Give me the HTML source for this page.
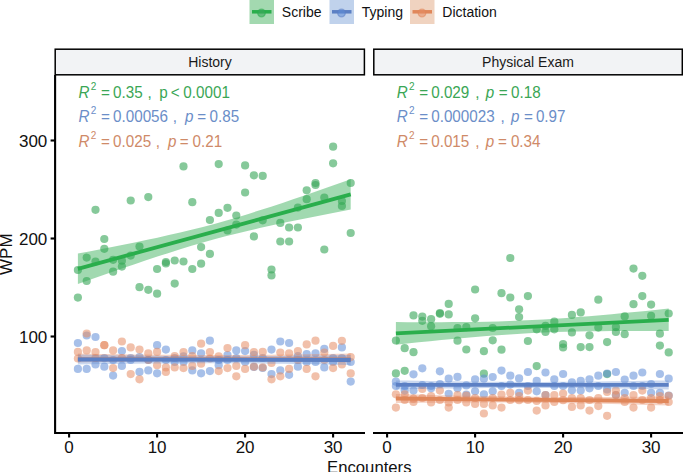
<!DOCTYPE html><html><head><meta charset="utf-8"><style>html,body{margin:0;padding:0;background:#fff;width:683px;height:472px;overflow:hidden}svg{display:block}</style></head><body><svg width="683" height="472" viewBox="0 0 683 472" font-family='"Liberation Sans", sans-serif'><rect width="683" height="472" fill="#fff"/><rect x="249.5" y="0" width="24.5" height="24" fill="#a3d9b0"/><line x1="252.0" y1="11.8" x2="271.5" y2="11.8" stroke="#2aae4c" stroke-width="3.5"/><circle cx="261.5" cy="13" r="3.8" fill="rgba(60,168,92,0.62)" stroke="#2aae4c" stroke-opacity="0.55" stroke-width="1.3"/><rect x="329.5" y="0" width="24.5" height="24" fill="#c0d2ec"/><line x1="332.0" y1="11.8" x2="351.5" y2="11.8" stroke="#5c80c4" stroke-width="3.5"/><circle cx="341.5" cy="13" r="3.8" fill="rgba(95,140,215,0.55)" stroke="#5c80c4" stroke-opacity="0.55" stroke-width="1.3"/><rect x="410" y="0" width="24.5" height="24" fill="#f0d3c0"/><line x1="412.5" y1="11.8" x2="432" y2="11.8" stroke="#e0875a" stroke-width="3.5"/><circle cx="422" cy="13" r="3.8" fill="rgba(230,140,100,0.55)" stroke="#e0875a" stroke-opacity="0.55" stroke-width="1.3"/><g font-size="14" fill="#111"><text x="281.8" y="16.9">Scribe</text><text x="361.8" y="16.9">Typing</text><text x="442.3" y="16.9">Dictation</text></g><rect x="55.2" y="49.2" width="309.2" height="25.6" fill="#f2f3f5" stroke="#000" stroke-width="1.5"/><rect x="373.8" y="49.2" width="308.5" height="25.6" fill="#f2f3f5" stroke="#000" stroke-width="1.5"/><g font-size="14" fill="#1a1a1a" text-anchor="middle"><text x="210" y="66.9">History</text><text x="528" y="66.9">Physical Exam</text></g><g fill="rgba(60,168,92,0.62)"><circle cx="77.9" cy="270.0" r="4.1"/><circle cx="77.9" cy="297.6" r="4.1"/><circle cx="86.7" cy="257.6" r="4.1"/><circle cx="86.7" cy="281.0" r="4.1"/><circle cx="95.5" cy="209.8" r="4.1"/><circle cx="95.5" cy="261.5" r="4.1"/><circle cx="104.3" cy="239.0" r="4.1"/><circle cx="104.3" cy="248.8" r="4.1"/><circle cx="113.1" cy="259.8" r="4.1"/><circle cx="113.1" cy="271.7" r="4.1"/><circle cx="121.9" cy="260.7" r="4.1"/><circle cx="121.9" cy="266.6" r="4.1"/><circle cx="130.7" cy="200.5" r="4.1"/><circle cx="130.7" cy="255.6" r="4.1"/><circle cx="139.5" cy="246.5" r="4.1"/><circle cx="139.5" cy="287.2" r="4.1"/><circle cx="148.3" cy="197.1" r="4.1"/><circle cx="148.3" cy="289.8" r="4.1"/><circle cx="157.1" cy="269.0" r="4.1"/><circle cx="157.1" cy="293.7" r="4.1"/><circle cx="165.9" cy="262.0" r="4.1"/><circle cx="165.9" cy="263.5" r="4.1"/><circle cx="174.7" cy="260.5" r="4.1"/><circle cx="174.7" cy="283.6" r="4.1"/><circle cx="183.5" cy="166.4" r="4.1"/><circle cx="183.5" cy="261.5" r="4.1"/><circle cx="192.3" cy="202.2" r="4.1"/><circle cx="192.3" cy="269.0" r="4.1"/><circle cx="201.1" cy="247.1" r="4.1"/><circle cx="201.1" cy="263.7" r="4.1"/><circle cx="209.9" cy="220.0" r="4.1"/><circle cx="209.9" cy="253.9" r="4.1"/><circle cx="218.7" cy="164.1" r="4.1"/><circle cx="218.7" cy="212.9" r="4.1"/><circle cx="227.5" cy="207.8" r="4.1"/><circle cx="227.5" cy="230.5" r="4.1"/><circle cx="236.3" cy="215.5" r="4.1"/><circle cx="236.3" cy="224.6" r="4.1"/><circle cx="245.1" cy="165.4" r="4.1"/><circle cx="245.1" cy="192.5" r="4.1"/><circle cx="253.9" cy="175.3" r="4.1"/><circle cx="253.9" cy="236.4" r="4.1"/><circle cx="262.7" cy="175.9" r="4.1"/><circle cx="262.7" cy="220.3" r="4.1"/><circle cx="271.5" cy="269.5" r="4.1"/><circle cx="271.5" cy="275.4" r="4.1"/><circle cx="280.3" cy="222.9" r="4.1"/><circle cx="280.3" cy="241.5" r="4.1"/><circle cx="289.1" cy="227.5" r="4.1"/><circle cx="289.1" cy="241.5" r="4.1"/><circle cx="297.9" cy="207.6" r="4.1"/><circle cx="297.9" cy="227.5" r="4.1"/><circle cx="306.7" cy="190.3" r="4.1"/><circle cx="306.7" cy="199.2" r="4.1"/><circle cx="315.5" cy="183.0" r="4.1"/><circle cx="315.5" cy="185.0" r="4.1"/><circle cx="324.3" cy="197.5" r="4.1"/><circle cx="324.3" cy="249.5" r="4.1"/><circle cx="333.1" cy="146.7" r="4.1"/><circle cx="333.1" cy="163.3" r="4.1"/><circle cx="341.9" cy="201.0" r="4.1"/><circle cx="341.9" cy="206.0" r="4.1"/><circle cx="350.7" cy="183.0" r="4.1"/><circle cx="350.7" cy="233.0" r="4.1"/></g><g fill="rgba(95,140,215,0.55)"><circle cx="77.9" cy="343.0" r="4.1"/><circle cx="77.9" cy="368.9" r="4.1"/><circle cx="86.7" cy="335.5" r="4.1"/><circle cx="86.7" cy="368.9" r="4.1"/><circle cx="95.5" cy="337.0" r="4.1"/><circle cx="95.5" cy="364.4" r="4.1"/><circle cx="104.3" cy="366.7" r="4.1"/><circle cx="104.3" cy="358.0" r="4.1"/><circle cx="113.1" cy="375.6" r="4.1"/><circle cx="113.1" cy="360.0" r="4.1"/><circle cx="121.9" cy="351.1" r="4.1"/><circle cx="121.9" cy="365.9" r="4.1"/><circle cx="130.7" cy="360.0" r="4.1"/><circle cx="130.7" cy="358.0" r="4.1"/><circle cx="139.5" cy="371.9" r="4.1"/><circle cx="139.5" cy="357.0" r="4.1"/><circle cx="148.3" cy="370.4" r="4.1"/><circle cx="148.3" cy="360.0" r="4.1"/><circle cx="157.1" cy="345.2" r="4.1"/><circle cx="157.1" cy="373.3" r="4.1"/><circle cx="165.9" cy="349.6" r="4.1"/><circle cx="165.9" cy="360.0" r="4.1"/><circle cx="174.7" cy="358.0" r="4.1"/><circle cx="174.7" cy="362.0" r="4.1"/><circle cx="183.5" cy="356.3" r="4.1"/><circle cx="183.5" cy="362.0" r="4.1"/><circle cx="192.3" cy="350.4" r="4.1"/><circle cx="192.3" cy="370.4" r="4.1"/><circle cx="201.1" cy="353.3" r="4.1"/><circle cx="201.1" cy="373.3" r="4.1"/><circle cx="209.9" cy="340.7" r="4.1"/><circle cx="209.9" cy="371.1" r="4.1"/><circle cx="218.7" cy="365.2" r="4.1"/><circle cx="218.7" cy="360.0" r="4.1"/><circle cx="227.5" cy="360.0" r="4.1"/><circle cx="227.5" cy="355.0" r="4.1"/><circle cx="236.3" cy="350.4" r="4.1"/><circle cx="236.3" cy="358.0" r="4.1"/><circle cx="245.1" cy="351.1" r="4.1"/><circle cx="245.1" cy="362.0" r="4.1"/><circle cx="253.9" cy="354.8" r="4.1"/><circle cx="253.9" cy="367.0" r="4.1"/><circle cx="262.7" cy="358.0" r="4.1"/><circle cx="262.7" cy="368.0" r="4.1"/><circle cx="271.5" cy="349.6" r="4.1"/><circle cx="271.5" cy="374.1" r="4.1"/><circle cx="280.3" cy="341.5" r="4.1"/><circle cx="280.3" cy="370.4" r="4.1"/><circle cx="289.1" cy="343.0" r="4.1"/><circle cx="289.1" cy="374.8" r="4.1"/><circle cx="297.9" cy="366.7" r="4.1"/><circle cx="297.9" cy="356.0" r="4.1"/><circle cx="306.7" cy="354.1" r="4.1"/><circle cx="306.7" cy="362.0" r="4.1"/><circle cx="315.5" cy="353.3" r="4.1"/><circle cx="315.5" cy="362.0" r="4.1"/><circle cx="324.3" cy="348.9" r="4.1"/><circle cx="324.3" cy="367.4" r="4.1"/><circle cx="333.1" cy="358.0" r="4.1"/><circle cx="333.1" cy="362.0" r="4.1"/><circle cx="341.9" cy="347.4" r="4.1"/><circle cx="341.9" cy="358.0" r="4.1"/><circle cx="350.7" cy="381.6" r="4.1"/><circle cx="350.7" cy="362.0" r="4.1"/></g><g fill="rgba(230,140,100,0.55)"><circle cx="77.9" cy="351.9" r="4.1"/><circle cx="77.9" cy="358.5" r="4.1"/><circle cx="86.7" cy="333.5" r="4.1"/><circle cx="86.7" cy="350.4" r="4.1"/><circle cx="95.5" cy="352.0" r="4.1"/><circle cx="95.5" cy="358.0" r="4.1"/><circle cx="104.3" cy="345.2" r="4.1"/><circle cx="104.3" cy="345.2" r="4.1"/><circle cx="113.1" cy="350.4" r="4.1"/><circle cx="113.1" cy="368.1" r="4.1"/><circle cx="121.9" cy="341.5" r="4.1"/><circle cx="121.9" cy="358.0" r="4.1"/><circle cx="130.7" cy="347.4" r="4.1"/><circle cx="130.7" cy="374.1" r="4.1"/><circle cx="139.5" cy="349.6" r="4.1"/><circle cx="139.5" cy="379.3" r="4.1"/><circle cx="148.3" cy="353.3" r="4.1"/><circle cx="148.3" cy="360.0" r="4.1"/><circle cx="157.1" cy="351.9" r="4.1"/><circle cx="157.1" cy="365.2" r="4.1"/><circle cx="165.9" cy="367.4" r="4.1"/><circle cx="165.9" cy="371.9" r="4.1"/><circle cx="174.7" cy="367.4" r="4.1"/><circle cx="174.7" cy="356.0" r="4.1"/><circle cx="183.5" cy="368.1" r="4.1"/><circle cx="183.5" cy="352.0" r="4.1"/><circle cx="192.3" cy="365.9" r="4.1"/><circle cx="192.3" cy="356.0" r="4.1"/><circle cx="201.1" cy="343.7" r="4.1"/><circle cx="201.1" cy="363.7" r="4.1"/><circle cx="209.9" cy="358.5" r="4.1"/><circle cx="209.9" cy="352.0" r="4.1"/><circle cx="218.7" cy="356.3" r="4.1"/><circle cx="218.7" cy="371.1" r="4.1"/><circle cx="227.5" cy="348.1" r="4.1"/><circle cx="227.5" cy="368.1" r="4.1"/><circle cx="236.3" cy="365.9" r="4.1"/><circle cx="236.3" cy="376.3" r="4.1"/><circle cx="245.1" cy="345.2" r="4.1"/><circle cx="245.1" cy="368.9" r="4.1"/><circle cx="253.9" cy="366.7" r="4.1"/><circle cx="253.9" cy="352.0" r="4.1"/><circle cx="262.7" cy="351.9" r="4.1"/><circle cx="262.7" cy="367.4" r="4.1"/><circle cx="271.5" cy="363.0" r="4.1"/><circle cx="271.5" cy="379.3" r="4.1"/><circle cx="280.3" cy="352.6" r="4.1"/><circle cx="280.3" cy="376.3" r="4.1"/><circle cx="289.1" cy="353.3" r="4.1"/><circle cx="289.1" cy="368.9" r="4.1"/><circle cx="297.9" cy="351.1" r="4.1"/><circle cx="297.9" cy="360.0" r="4.1"/><circle cx="306.7" cy="344.4" r="4.1"/><circle cx="306.7" cy="368.9" r="4.1"/><circle cx="315.5" cy="340.7" r="4.1"/><circle cx="315.5" cy="376.3" r="4.1"/><circle cx="324.3" cy="352.6" r="4.1"/><circle cx="324.3" cy="360.0" r="4.1"/><circle cx="333.1" cy="345.9" r="4.1"/><circle cx="333.1" cy="368.1" r="4.1"/><circle cx="341.9" cy="340.8" r="4.1"/><circle cx="341.9" cy="364.5" r="4.1"/><circle cx="350.7" cy="357.1" r="4.1"/><circle cx="350.7" cy="373.4" r="4.1"/></g><g fill="rgba(60,168,92,0.62)"><circle cx="395.9" cy="340.5" r="4.1"/><circle cx="395.9" cy="373.4" r="4.1"/><circle cx="404.7" cy="348.2" r="4.1"/><circle cx="404.7" cy="370.8" r="4.1"/><circle cx="413.5" cy="315.4" r="4.1"/><circle cx="413.5" cy="352.2" r="4.1"/><circle cx="422.3" cy="316.6" r="4.1"/><circle cx="422.3" cy="320.8" r="4.1"/><circle cx="431.1" cy="319.2" r="4.1"/><circle cx="431.1" cy="326.3" r="4.1"/><circle cx="439.9" cy="313.0" r="4.1"/><circle cx="439.9" cy="313.8" r="4.1"/><circle cx="448.7" cy="303.9" r="4.1"/><circle cx="448.7" cy="314.4" r="4.1"/><circle cx="457.5" cy="328.0" r="4.1"/><circle cx="457.5" cy="340.7" r="4.1"/><circle cx="466.3" cy="327.1" r="4.1"/><circle cx="466.3" cy="349.5" r="4.1"/><circle cx="475.1" cy="289.5" r="4.1"/><circle cx="475.1" cy="318.3" r="4.1"/><circle cx="483.9" cy="351.2" r="4.1"/><circle cx="483.9" cy="373.7" r="4.1"/><circle cx="492.7" cy="328.0" r="4.1"/><circle cx="492.7" cy="340.3" r="4.1"/><circle cx="501.5" cy="293.2" r="4.1"/><circle cx="501.5" cy="349.7" r="4.1"/><circle cx="510.3" cy="258.0" r="4.1"/><circle cx="510.3" cy="297.5" r="4.1"/><circle cx="519.1" cy="309.3" r="4.1"/><circle cx="519.1" cy="317.0" r="4.1"/><circle cx="527.9" cy="296.1" r="4.1"/><circle cx="527.9" cy="341.0" r="4.1"/><circle cx="536.7" cy="329.3" r="4.1"/><circle cx="536.7" cy="366.1" r="4.1"/><circle cx="545.5" cy="325.9" r="4.1"/><circle cx="545.5" cy="331.9" r="4.1"/><circle cx="554.3" cy="321.7" r="4.1"/><circle cx="554.3" cy="329.3" r="4.1"/><circle cx="563.1" cy="344.0" r="4.1"/><circle cx="563.1" cy="347.5" r="4.1"/><circle cx="571.9" cy="314.9" r="4.1"/><circle cx="571.9" cy="332.4" r="4.1"/><circle cx="580.7" cy="312.4" r="4.1"/><circle cx="580.7" cy="347.1" r="4.1"/><circle cx="589.5" cy="335.3" r="4.1"/><circle cx="589.5" cy="347.1" r="4.1"/><circle cx="598.3" cy="299.7" r="4.1"/><circle cx="598.3" cy="327.6" r="4.1"/><circle cx="607.1" cy="342.1" r="4.1"/><circle cx="607.1" cy="374.1" r="4.1"/><circle cx="615.9" cy="327.1" r="4.1"/><circle cx="615.9" cy="332.0" r="4.1"/><circle cx="624.7" cy="316.4" r="4.1"/><circle cx="624.7" cy="334.2" r="4.1"/><circle cx="633.5" cy="268.6" r="4.1"/><circle cx="633.5" cy="304.2" r="4.1"/><circle cx="642.3" cy="275.8" r="4.1"/><circle cx="642.3" cy="296.1" r="4.1"/><circle cx="651.1" cy="304.6" r="4.1"/><circle cx="651.1" cy="315.8" r="4.1"/><circle cx="659.9" cy="333.7" r="4.1"/><circle cx="659.9" cy="345.6" r="4.1"/><circle cx="668.7" cy="313.5" r="4.1"/><circle cx="668.7" cy="352.4" r="4.1"/></g><g fill="rgba(95,140,215,0.55)"><circle cx="395.9" cy="381.7" r="4.1"/><circle cx="395.9" cy="386.0" r="4.1"/><circle cx="404.7" cy="390.6" r="4.1"/><circle cx="404.7" cy="386.0" r="4.1"/><circle cx="413.5" cy="374.3" r="4.1"/><circle cx="413.5" cy="390.6" r="4.1"/><circle cx="422.3" cy="368.3" r="4.1"/><circle cx="422.3" cy="385.0" r="4.1"/><circle cx="431.1" cy="388.3" r="4.1"/><circle cx="431.1" cy="386.0" r="4.1"/><circle cx="439.9" cy="371.3" r="4.1"/><circle cx="439.9" cy="384.0" r="4.1"/><circle cx="448.7" cy="378.7" r="4.1"/><circle cx="448.7" cy="393.8" r="4.1"/><circle cx="457.5" cy="376.9" r="4.1"/><circle cx="457.5" cy="388.3" r="4.1"/><circle cx="466.3" cy="385.4" r="4.1"/><circle cx="466.3" cy="394.5" r="4.1"/><circle cx="475.1" cy="379.4" r="4.1"/><circle cx="475.1" cy="391.3" r="4.1"/><circle cx="483.9" cy="378.7" r="4.1"/><circle cx="483.9" cy="394.3" r="4.1"/><circle cx="492.7" cy="377.0" r="4.1"/><circle cx="492.7" cy="391.3" r="4.1"/><circle cx="501.5" cy="370.6" r="4.1"/><circle cx="501.5" cy="386.0" r="4.1"/><circle cx="510.3" cy="375.7" r="4.1"/><circle cx="510.3" cy="384.6" r="4.1"/><circle cx="519.1" cy="378.4" r="4.1"/><circle cx="519.1" cy="392.8" r="4.1"/><circle cx="527.9" cy="372.0" r="4.1"/><circle cx="527.9" cy="386.0" r="4.1"/><circle cx="536.7" cy="380.9" r="4.1"/><circle cx="536.7" cy="391.3" r="4.1"/><circle cx="545.5" cy="372.5" r="4.1"/><circle cx="545.5" cy="395.0" r="4.1"/><circle cx="554.3" cy="379.4" r="4.1"/><circle cx="554.3" cy="386.0" r="4.1"/><circle cx="563.1" cy="374.0" r="4.1"/><circle cx="563.1" cy="386.0" r="4.1"/><circle cx="571.9" cy="382.4" r="4.1"/><circle cx="571.9" cy="390.3" r="4.1"/><circle cx="580.7" cy="380.9" r="4.1"/><circle cx="580.7" cy="390.6" r="4.1"/><circle cx="589.5" cy="379.4" r="4.1"/><circle cx="589.5" cy="388.3" r="4.1"/><circle cx="598.3" cy="375.7" r="4.1"/><circle cx="598.3" cy="386.0" r="4.1"/><circle cx="607.1" cy="373.5" r="4.1"/><circle cx="607.1" cy="389.5" r="4.1"/><circle cx="615.9" cy="372.0" r="4.1"/><circle cx="615.9" cy="395.0" r="4.1"/><circle cx="624.7" cy="379.5" r="4.1"/><circle cx="624.7" cy="392.8" r="4.1"/><circle cx="633.5" cy="375.7" r="4.1"/><circle cx="633.5" cy="386.0" r="4.1"/><circle cx="642.3" cy="372.5" r="4.1"/><circle cx="642.3" cy="386.0" r="4.1"/><circle cx="651.1" cy="392.8" r="4.1"/><circle cx="651.1" cy="384.0" r="4.1"/><circle cx="659.9" cy="374.0" r="4.1"/><circle cx="659.9" cy="392.8" r="4.1"/><circle cx="668.7" cy="378.7" r="4.1"/><circle cx="668.7" cy="395.5" r="4.1"/></g><g fill="rgba(230,140,100,0.55)"><circle cx="395.9" cy="394.3" r="4.1"/><circle cx="395.9" cy="407.6" r="4.1"/><circle cx="404.7" cy="394.3" r="4.1"/><circle cx="404.7" cy="400.0" r="4.1"/><circle cx="413.5" cy="398.7" r="4.1"/><circle cx="413.5" cy="402.0" r="4.1"/><circle cx="422.3" cy="389.0" r="4.1"/><circle cx="422.3" cy="398.0" r="4.1"/><circle cx="431.1" cy="402.4" r="4.1"/><circle cx="431.1" cy="396.0" r="4.1"/><circle cx="439.9" cy="390.6" r="4.1"/><circle cx="439.9" cy="400.0" r="4.1"/><circle cx="448.7" cy="402.4" r="4.1"/><circle cx="448.7" cy="407.6" r="4.1"/><circle cx="457.5" cy="395.0" r="4.1"/><circle cx="457.5" cy="400.0" r="4.1"/><circle cx="466.3" cy="395.7" r="4.1"/><circle cx="466.3" cy="402.4" r="4.1"/><circle cx="475.1" cy="403.9" r="4.1"/><circle cx="475.1" cy="398.0" r="4.1"/><circle cx="483.9" cy="403.9" r="4.1"/><circle cx="483.9" cy="413.5" r="4.1"/><circle cx="492.7" cy="405.4" r="4.1"/><circle cx="492.7" cy="398.0" r="4.1"/><circle cx="501.5" cy="407.6" r="4.1"/><circle cx="501.5" cy="394.5" r="4.1"/><circle cx="510.3" cy="392.8" r="4.1"/><circle cx="510.3" cy="400.0" r="4.1"/><circle cx="519.1" cy="400.2" r="4.1"/><circle cx="519.1" cy="396.0" r="4.1"/><circle cx="527.9" cy="390.6" r="4.1"/><circle cx="527.9" cy="400.0" r="4.1"/><circle cx="536.7" cy="400.9" r="4.1"/><circle cx="536.7" cy="410.6" r="4.1"/><circle cx="545.5" cy="395.0" r="4.1"/><circle cx="545.5" cy="405.4" r="4.1"/><circle cx="554.3" cy="395.0" r="4.1"/><circle cx="554.3" cy="402.0" r="4.1"/><circle cx="563.1" cy="393.5" r="4.1"/><circle cx="563.1" cy="400.2" r="4.1"/><circle cx="571.9" cy="398.0" r="4.1"/><circle cx="571.9" cy="406.9" r="4.1"/><circle cx="580.7" cy="405.4" r="4.1"/><circle cx="580.7" cy="398.0" r="4.1"/><circle cx="589.5" cy="410.6" r="4.1"/><circle cx="589.5" cy="400.0" r="4.1"/><circle cx="598.3" cy="406.1" r="4.1"/><circle cx="598.3" cy="398.0" r="4.1"/><circle cx="607.1" cy="392.0" r="4.1"/><circle cx="607.1" cy="415.8" r="4.1"/><circle cx="615.9" cy="390.6" r="4.1"/><circle cx="615.9" cy="395.0" r="4.1"/><circle cx="624.7" cy="398.0" r="4.1"/><circle cx="624.7" cy="402.0" r="4.1"/><circle cx="633.5" cy="395.0" r="4.1"/><circle cx="633.5" cy="407.6" r="4.1"/><circle cx="642.3" cy="390.6" r="4.1"/><circle cx="642.3" cy="400.0" r="4.1"/><circle cx="651.1" cy="407.6" r="4.1"/><circle cx="651.1" cy="398.0" r="4.1"/><circle cx="659.9" cy="400.2" r="4.1"/><circle cx="659.9" cy="396.0" r="4.1"/><circle cx="668.7" cy="395.8" r="4.1"/><circle cx="668.7" cy="402.0" r="4.1"/></g><polygon points="77.9,353.5 89.2,353.7 100.6,353.9 112.0,354.1 123.3,354.3 134.7,354.4 146.1,354.6 157.4,354.7 168.8,354.8 180.2,354.9 191.5,354.9 202.9,355.0 214.3,355.0 225.6,355.0 237.0,354.9 248.4,354.9 259.7,354.8 271.1,354.7 282.5,354.6 293.8,354.4 305.2,354.3 316.6,354.1 327.9,353.9 339.3,353.7 350.7,353.5 350.7,362.5 339.3,362.3 327.9,362.1 316.6,361.9 305.2,361.7 293.8,361.6 282.5,361.4 271.1,361.3 259.7,361.2 248.4,361.1 237.0,361.1 225.6,361.0 214.3,361.0 202.9,361.0 191.5,361.1 180.2,361.1 168.8,361.2 157.4,361.3 146.1,361.4 134.7,361.6 123.3,361.7 112.0,361.9 100.6,362.1 89.2,362.3 77.9,362.5" fill="rgba(225,130,90,0.35)"/><line x1="77.9" y1="359.2" x2="350.7" y2="359.2" stroke="#e0875a" stroke-width="3.8"/><polygon points="77.9,253.6 89.2,251.4 100.6,249.2 112.0,247.0 123.3,244.8 134.7,242.4 146.1,240.1 157.4,237.7 168.8,235.1 180.2,232.5 191.5,229.8 202.9,226.9 214.3,223.9 225.6,220.7 237.0,217.4 248.4,213.9 259.7,210.3 271.1,206.7 282.5,202.9 293.8,199.0 305.2,195.2 316.6,191.2 327.9,187.2 339.3,183.2 350.7,179.2 350.7,209.6 339.3,211.8 327.9,214.0 316.6,216.2 305.2,218.4 293.8,220.8 282.5,223.1 271.1,225.5 259.7,228.1 248.4,230.7 237.0,233.4 225.6,236.3 214.3,239.3 202.9,242.5 191.5,245.8 180.2,249.3 168.8,252.9 157.4,256.5 146.1,260.3 134.7,264.2 123.3,268.0 112.0,272.0 100.6,276.0 89.2,280.0 77.9,284.0" fill="rgba(46,170,80,0.45)"/><line x1="77.9" y1="268.8" x2="350.7" y2="194.4" stroke="#2aae4c" stroke-width="3.8"/><polygon points="77.9,354.5 89.2,354.7 100.6,354.9 112.0,355.2 123.3,355.4 134.7,355.5 146.1,355.7 157.4,355.8 168.8,356.0 180.2,356.1 191.5,356.2 202.9,356.2 214.3,356.2 225.6,356.3 237.0,356.2 248.4,356.2 259.7,356.1 271.1,356.1 282.5,355.9 293.8,355.8 305.2,355.7 316.6,355.5 327.9,355.4 339.3,355.2 350.7,355.0 350.7,365.0 339.3,364.8 327.9,364.6 316.6,364.3 305.2,364.1 293.8,364.0 282.5,363.8 271.1,363.7 259.7,363.5 248.4,363.4 237.0,363.3 225.6,363.3 214.3,363.2 202.9,363.2 191.5,363.3 180.2,363.3 168.8,363.4 157.4,363.4 146.1,363.6 134.7,363.7 123.3,363.8 112.0,364.0 100.6,364.1 89.2,364.3 77.9,364.5" fill="rgba(100,140,210,0.35)"/><line x1="77.9" y1="359.5" x2="350.7" y2="360.0" stroke="#5c80c4" stroke-width="3.8"/><polygon points="395.9,394.0 407.2,394.3 418.6,394.6 430.0,394.9 441.3,395.2 452.7,395.4 464.1,395.7 475.4,395.9 486.8,396.1 498.2,396.3 509.5,396.5 520.9,396.6 532.3,396.8 543.6,396.8 555.0,396.9 566.4,396.9 577.7,397.0 589.1,397.0 600.5,396.9 611.8,396.9 623.2,396.8 634.6,396.8 645.9,396.7 657.3,396.6 668.7,396.5 668.7,405.5 657.3,405.2 645.9,404.9 634.6,404.6 623.2,404.3 611.8,404.1 600.5,403.8 589.1,403.6 577.7,403.4 566.4,403.2 555.0,403.0 543.6,402.9 532.3,402.8 520.9,402.7 509.5,402.6 498.2,402.6 486.8,402.5 475.4,402.5 464.1,402.6 452.7,402.6 441.3,402.7 430.0,402.7 418.6,402.8 407.2,402.9 395.9,403.0" fill="rgba(225,130,90,0.35)"/><line x1="395.9" y1="398.5" x2="668.7" y2="401.0" stroke="#e0875a" stroke-width="3.8"/><polygon points="395.9,322.1 407.2,322.2 418.6,322.2 430.0,322.2 441.3,322.2 452.7,322.1 464.1,322.0 475.4,321.9 486.8,321.7 498.2,321.4 509.5,321.1 520.9,320.6 532.3,320.1 543.6,319.5 555.0,318.8 566.4,318.0 577.7,317.1 589.1,316.2 600.5,315.2 611.8,314.2 623.2,313.1 634.6,312.0 645.9,310.9 657.3,309.7 668.7,308.5 668.7,331.1 657.3,331.0 645.9,331.0 634.6,331.0 623.2,331.0 611.8,331.1 600.5,331.2 589.1,331.3 577.7,331.5 566.4,331.8 555.0,332.1 543.6,332.6 532.3,333.1 520.9,333.7 509.5,334.4 498.2,335.2 486.8,336.1 475.4,337.0 464.1,338.0 452.7,339.0 441.3,340.1 430.0,341.2 418.6,342.3 407.2,343.5 395.9,344.7" fill="rgba(46,170,80,0.45)"/><line x1="395.9" y1="333.4" x2="668.7" y2="319.8" stroke="#2aae4c" stroke-width="3.8"/><polygon points="395.9,380.4 407.2,380.6 418.6,380.8 430.0,381.0 441.3,381.2 452.7,381.3 464.1,381.5 475.4,381.6 486.8,381.7 498.2,381.8 509.5,381.8 520.9,381.9 532.3,381.9 543.6,381.9 555.0,381.8 566.4,381.8 577.7,381.7 589.1,381.6 600.5,381.5 611.8,381.3 623.2,381.2 634.6,381.0 645.9,380.8 657.3,380.6 668.7,380.4 668.7,389.4 657.3,389.2 645.9,389.0 634.6,388.8 623.2,388.6 611.8,388.5 600.5,388.3 589.1,388.2 577.7,388.1 566.4,388.0 555.0,388.0 543.6,387.9 532.3,387.9 520.9,387.9 509.5,388.0 498.2,388.0 486.8,388.1 475.4,388.2 464.1,388.3 452.7,388.5 441.3,388.6 430.0,388.8 418.6,389.0 407.2,389.2 395.9,389.4" fill="rgba(100,140,210,0.35)"/><line x1="395.9" y1="384.9" x2="668.7" y2="384.9" stroke="#5c80c4" stroke-width="3.8"/><g stroke="#000" stroke-width="2.1" fill="none"><polyline points="55.1,75 55.1,433 365,433"/><line x1="373" y1="433" x2="683" y2="433"/><line x1="50.6" y1="336.5" x2="55" y2="336.5"/><line x1="50.6" y1="238.5" x2="55" y2="238.5"/><line x1="50.6" y1="140.5" x2="55" y2="140.5"/><line x1="69.1" y1="433" x2="69.1" y2="437.5"/><line x1="387.1" y1="433" x2="387.1" y2="437.5"/><line x1="157.1" y1="433" x2="157.1" y2="437.5"/><line x1="475.1" y1="433" x2="475.1" y2="437.5"/><line x1="245.1" y1="433" x2="245.1" y2="437.5"/><line x1="563.1" y1="433" x2="563.1" y2="437.5"/><line x1="333.1" y1="433" x2="333.1" y2="437.5"/><line x1="651.1" y1="433" x2="651.1" y2="437.5"/></g><g font-size="17" fill="#111"><text x="47.3" y="342.6" text-anchor="end">100</text><text x="47.3" y="244.6" text-anchor="end">200</text><text x="47.3" y="146.6" text-anchor="end">300</text><text x="69.1" y="452.6" text-anchor="middle">0</text><text x="387.1" y="452.6" text-anchor="middle">0</text><text x="157.1" y="452.6" text-anchor="middle">10</text><text x="475.1" y="452.6" text-anchor="middle">10</text><text x="245.1" y="452.6" text-anchor="middle">20</text><text x="563.1" y="452.6" text-anchor="middle">20</text><text x="333.1" y="452.6" text-anchor="middle">30</text><text x="651.1" y="452.6" text-anchor="middle">30</text><text x="369.3" y="472.5" text-anchor="middle" font-size="16.7">Encounters</text><text transform="translate(12.4,254.2) rotate(-90)" text-anchor="middle">WPM</text></g><g fill="#3aa655"><text transform="translate(78.60,97.80) scale(0.935,1)" font-size="16.30" font-style="italic">R</text><text transform="translate(90.70,90.00) scale(0.935,1)" font-size="10.76">2</text><text transform="translate(101.00,97.80) scale(0.935,1)" font-size="16.30">=</text><text transform="translate(113.00,97.80) scale(0.935,1)" font-size="16.30">0.35</text><text transform="translate(147.50,97.80) scale(0.935,1)" font-size="16.30">,</text><text transform="translate(159.20,97.80) scale(0.935,1)" font-size="16.30">p</text><text transform="translate(170.80,97.80) scale(0.935,1)" font-size="16.30">&lt;</text><text transform="translate(183.30,97.80) scale(0.935,1)" font-size="16.30">0.0001</text></g><g fill="#6b8ec8"><text transform="translate(78.60,122.20) scale(0.935,1)" font-size="16.30" font-style="italic">R</text><text transform="translate(90.70,114.40) scale(0.935,1)" font-size="10.76">2</text><text transform="translate(101.00,122.20) scale(0.935,1)" font-size="16.30">=</text><text transform="translate(113.00,122.20) scale(0.935,1)" font-size="16.30">0.00056</text><text transform="translate(172.80,122.20) scale(0.935,1)" font-size="16.30">,</text><text transform="translate(185.00,122.20) scale(0.935,1)" font-size="16.30" font-style="italic">p</text><text transform="translate(197.30,122.20) scale(0.935,1)" font-size="16.30">=</text><text transform="translate(209.60,122.20) scale(0.935,1)" font-size="16.30">0.85</text></g><g fill="#cf8a68"><text transform="translate(78.60,146.50) scale(0.935,1)" font-size="16.30" font-style="italic">R</text><text transform="translate(90.70,138.70) scale(0.935,1)" font-size="10.76">2</text><text transform="translate(101.00,146.50) scale(0.935,1)" font-size="16.30">=</text><text transform="translate(113.00,146.50) scale(0.935,1)" font-size="16.30">0.025</text><text transform="translate(155.70,146.50) scale(0.935,1)" font-size="16.30">,</text><text transform="translate(168.00,146.50) scale(0.935,1)" font-size="16.30" font-style="italic">p</text><text transform="translate(179.80,146.50) scale(0.935,1)" font-size="16.30">=</text><text transform="translate(192.60,146.50) scale(0.935,1)" font-size="16.30">0.21</text></g><g fill="#3aa655"><text transform="translate(396.80,97.80) scale(0.935,1)" font-size="16.30" font-style="italic">R</text><text transform="translate(408.90,90.00) scale(0.935,1)" font-size="10.76">2</text><text transform="translate(419.20,97.80) scale(0.935,1)" font-size="16.30">=</text><text transform="translate(431.20,97.80) scale(0.935,1)" font-size="16.30">0.029</text><text transform="translate(475.20,97.80) scale(0.935,1)" font-size="16.30">,</text><text transform="translate(485.80,97.80) scale(0.935,1)" font-size="16.30" font-style="italic">p</text><text transform="translate(498.80,97.80) scale(0.935,1)" font-size="16.30">=</text><text transform="translate(511.10,97.80) scale(0.935,1)" font-size="16.30">0.18</text></g><g fill="#6b8ec8"><text transform="translate(396.80,122.20) scale(0.935,1)" font-size="16.30" font-style="italic">R</text><text transform="translate(408.90,114.40) scale(0.935,1)" font-size="10.76">2</text><text transform="translate(419.20,122.20) scale(0.935,1)" font-size="16.30">=</text><text transform="translate(431.20,122.20) scale(0.935,1)" font-size="16.30">0.000023</text><text transform="translate(500.50,122.20) scale(0.935,1)" font-size="16.30">,</text><text transform="translate(511.00,122.20) scale(0.935,1)" font-size="16.30" font-style="italic">p</text><text transform="translate(524.10,122.20) scale(0.935,1)" font-size="16.30">=</text><text transform="translate(535.90,122.20) scale(0.935,1)" font-size="16.30">0.97</text></g><g fill="#cf8a68"><text transform="translate(396.80,146.50) scale(0.935,1)" font-size="16.30" font-style="italic">R</text><text transform="translate(408.90,138.70) scale(0.935,1)" font-size="10.76">2</text><text transform="translate(419.20,146.50) scale(0.935,1)" font-size="16.30">=</text><text transform="translate(431.20,146.50) scale(0.935,1)" font-size="16.30">0.015</text><text transform="translate(475.20,146.50) scale(0.935,1)" font-size="16.30">,</text><text transform="translate(485.80,146.50) scale(0.935,1)" font-size="16.30" font-style="italic">p</text><text transform="translate(498.00,146.50) scale(0.935,1)" font-size="16.30">=</text><text transform="translate(510.90,146.50) scale(0.935,1)" font-size="16.30">0.34</text></g></svg></body></html>
